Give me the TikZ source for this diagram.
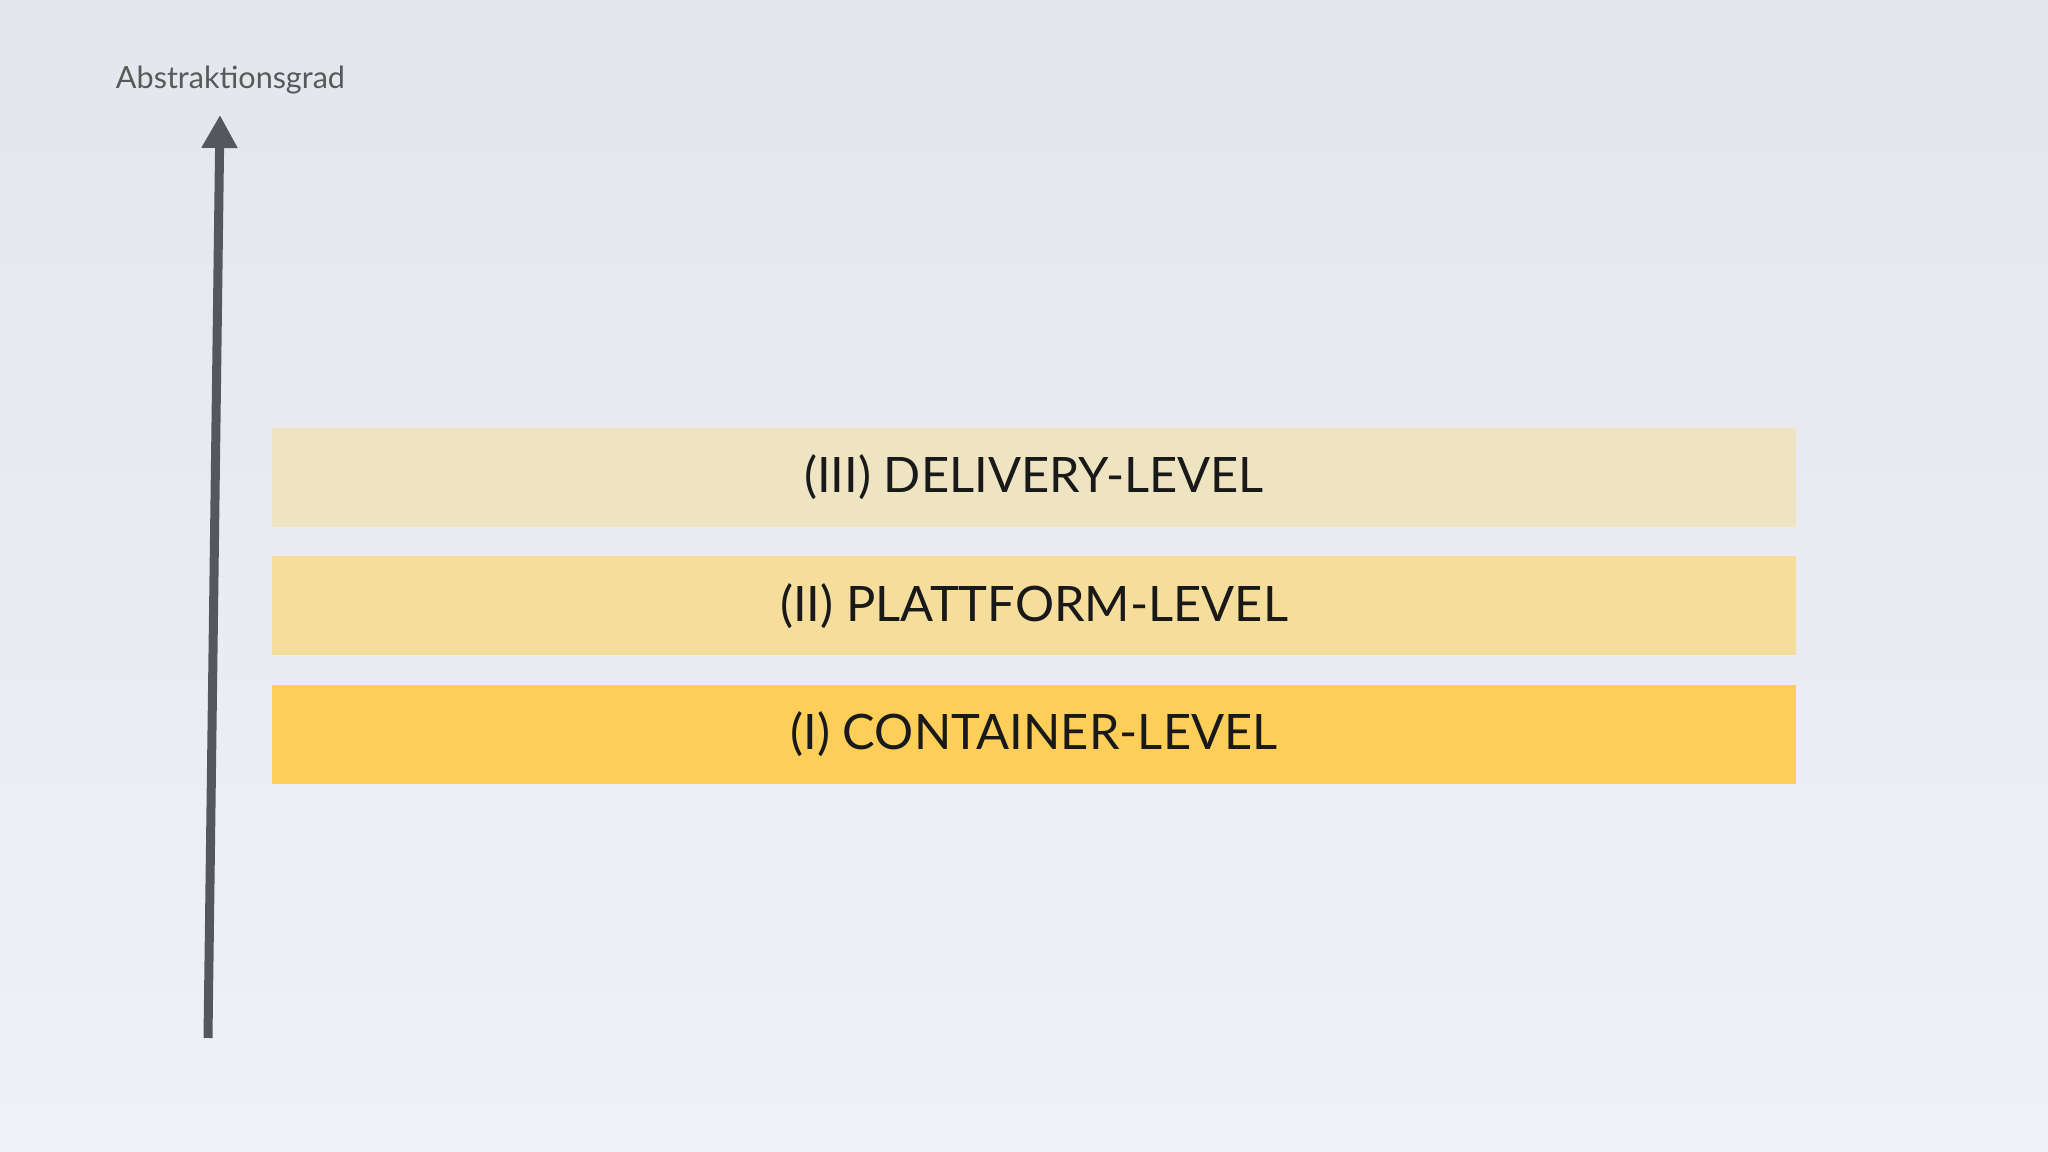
\documentclass[tikz,border=0pt]{standalone}
\usepackage{fontspec}
\setmainfont{Lato}
\usepackage{tikz}
\usetikzlibrary{arrows.meta,
  positioning,
  calc
}
\definecolor{bgtop}{HTML}{E3E6ED}
\definecolor{bgbottom}{HTML}{F0F1F6}
\definecolor{axisgray}{HTML}{54585C}
\definecolor{deliverycol}{HTML}{EFE4C2}
\definecolor{plattformcol}{HTML}{F5DD9C}
\definecolor{containercol}{HTML}{FDCE58}
\tikzstyle{levelbar} = [rectangle, minimum width=15.24cm, minimum height=0.99cm,
  inner sep=0pt, font=\fontsize{13.9}{16}\selectfont, text=black!90]
\tikzstyle{axisarrow} = [-{Triangle[width=0.34cm,length=0.33cm]}, axisgray,
  line width=0.09cm]

\begin{document}
\begin{tikzpicture}
  \useasboundingbox (0, 0) rectangle (20.48, 11.52);
  \shade[top color=bgtop, bottom color=bgbottom] (0, 0) rectangle (20.48, 11.52);

  \node[levelbar, fill=deliverycol] (delivery) at (10.34, 6.745) {(III) DELIVERY-LEVEL};
  \node[levelbar, fill=plattformcol, below=0.28cm of delivery] (plattform) {(II) PLATTFORM-LEVEL};
  \node[levelbar, fill=containercol, below=0.28cm of plattform] (container) {(I) CONTAINER-LEVEL};

  \coordinate (axisfoot) at (2.08, 1.14);
  \coordinate (axistip) at (2.20, 10.37);
  \draw[axisarrow] (axisfoot) -- (axistip);
  \node[anchor=base, text=black!65, font=\fontsize{8.7}{10}\selectfont] (abstraktion)
    at (2.305, 10.63) {Abstraktionsgrad};
\end{tikzpicture}
\end{document}
